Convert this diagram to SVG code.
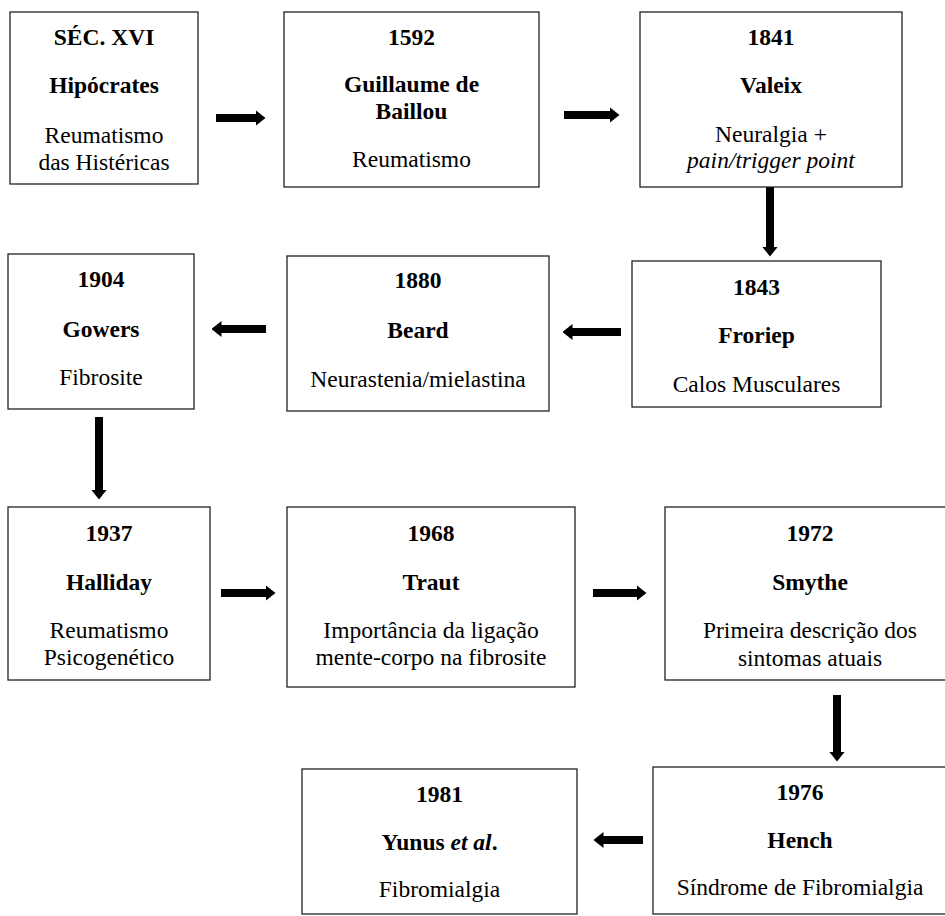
<svg xmlns="http://www.w3.org/2000/svg" width="945" height="916" viewBox="0 0 945 916">
  <style>
    .box { fill: #ffffff; stroke: #222222; stroke-width: 1.3; }
    text { font-family: "Liberation Serif", "Times New Roman", serif; font-size: 23.5px; fill: #000000; text-anchor: middle; }
    .b { font-weight: bold; }
    .i { font-style: italic; }
    .conn { stroke: #000000; stroke-width: 8; fill: none; marker-end: url(#head); }
  </style>
  <defs>
    <marker id="head" markerUnits="userSpaceOnUse" markerWidth="10" markerHeight="16" viewBox="0 0 10 16" refX="0.5" refY="8" orient="auto">
      <path d="M0,0 L10,8 L0,16 Z" fill="#000000"/>
    </marker>
  </defs>
  <rect width="945" height="916" fill="#ffffff"/>

  <g id="connectors">
    <line class="conn" x1="216" y1="118" x2="256" y2="118"/>
    <line class="conn" x1="564" y1="115" x2="610" y2="115"/>
    <line class="conn" x1="770" y1="187" x2="770" y2="247"/>
    <line class="conn" x1="621" y1="332" x2="572" y2="332"/>
    <line class="conn" x1="266" y1="329" x2="221" y2="329"/>
    <line class="conn" x1="99" y1="417" x2="99" y2="490"/>
    <line class="conn" x1="221" y1="593" x2="266" y2="593"/>
    <line class="conn" x1="593" y1="593" x2="637" y2="593"/>
    <line class="conn" x1="837" y1="695" x2="837" y2="752"/>
    <line class="conn" x1="643" y1="840" x2="603" y2="840"/>
  </g>

  <g id="node-sec-xvi">
    <rect class="box" x="10" y="12" width="188" height="172"/>
    <text class="b" x="104" y="45">SÉC. XVI</text>
    <text class="b" x="104" y="93">Hipócrates</text>
    <text x="104" y="143">Reumatismo</text>
    <text x="104" y="170">das Histéricas</text>
  </g>

  <g id="node-1592">
    <rect class="box" x="284" y="12" width="255" height="175"/>
    <text class="b" x="411.5" y="45">1592</text>
    <text class="b" x="411.5" y="92">Guillaume de</text>
    <text class="b" x="411.5" y="119">Baillou</text>
    <text x="411.5" y="167">Reumatismo</text>
  </g>

  <g id="node-1841">
    <rect class="box" x="640" y="12" width="262" height="175"/>
    <text class="b" x="771" y="45">1841</text>
    <text class="b" x="771" y="93">Valeix</text>
    <text x="771" y="142">Neuralgia +</text>
    <text class="i" x="771" y="168">pain/trigger point</text>
  </g>

  <g id="node-1843">
    <rect class="box" x="632" y="261" width="249" height="146"/>
    <text class="b" x="756.5" y="295">1843</text>
    <text class="b" x="756.5" y="343">Froriep</text>
    <text x="756.5" y="392">Calos Musculares</text>
  </g>

  <g id="node-1880">
    <rect class="box" x="287" y="256" width="262" height="155"/>
    <text class="b" x="418" y="288">1880</text>
    <text class="b" x="418" y="338">Beard</text>
    <text x="418" y="387">Neurastenia/mielastina</text>
  </g>

  <g id="node-1904">
    <rect class="box" x="8" y="254" width="186" height="155"/>
    <text class="b" x="101" y="287">1904</text>
    <text class="b" x="101" y="337">Gowers</text>
    <text x="101" y="385">Fibrosite</text>
  </g>

  <g id="node-1937">
    <rect class="box" x="8" y="507" width="202" height="173"/>
    <text class="b" x="109" y="541">1937</text>
    <text class="b" x="109" y="590">Halliday</text>
    <text x="109" y="638">Reumatismo</text>
    <text x="109" y="665">Psicogenético</text>
  </g>

  <g id="node-1968">
    <rect class="box" x="287" y="507" width="288" height="180"/>
    <text class="b" x="431" y="541">1968</text>
    <text class="b" x="431" y="590">Traut</text>
    <text x="431" y="638">Importância da ligação</text>
    <text x="431" y="665">mente-corpo na fibrosite</text>
  </g>

  <g id="node-1972">
    <rect class="box" x="665" y="507" width="290" height="173"/>
    <text class="b" x="810" y="541">1972</text>
    <text class="b" x="810" y="590">Smythe</text>
    <text x="810" y="638">Primeira descrição dos</text>
    <text x="810" y="666">sintomas atuais</text>
  </g>

  <g id="node-1976">
    <rect class="box" x="653" y="767" width="294" height="147"/>
    <text class="b" x="800" y="800">1976</text>
    <text class="b" x="800" y="848">Hench</text>
    <text x="800" y="895">Síndrome de Fibromialgia</text>
  </g>

  <g id="node-1981">
    <rect class="box" x="302" y="769" width="275" height="145"/>
    <text class="b" x="439.5" y="802">1981</text>
    <text class="b" x="439.5" y="850">Yunus <tspan class="i">et al</tspan>.</text>
    <text x="439.5" y="897">Fibromialgia</text>
  </g>
</svg>
